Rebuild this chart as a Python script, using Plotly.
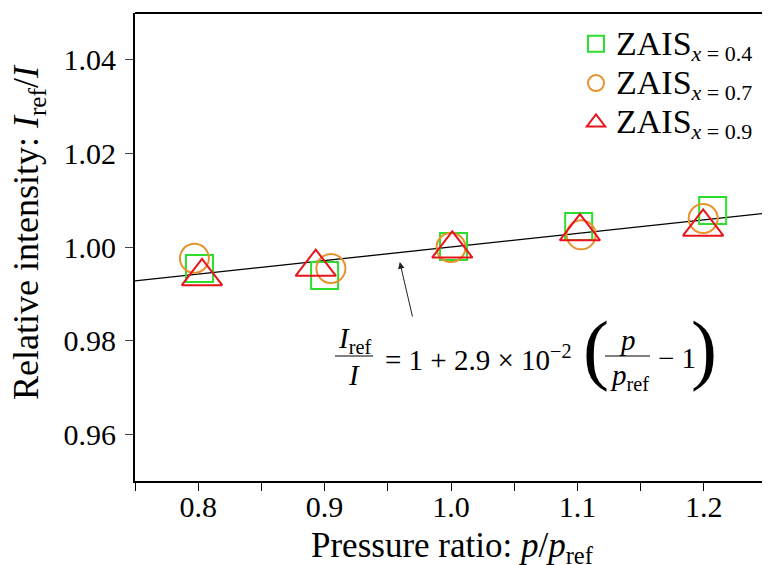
import plotly.graph_objects as go

# ---- data ----
pressure_ratio_04 = [0.801, 0.900, 1.002, 1.101, 1.207]
intensity_04 = [0.9954, 0.9939, 1.0001, 1.0044, 1.0078]
pressure_ratio_07 = [0.797, 0.905, 1.000, 1.103, 1.1995]
intensity_07 = [0.9976, 0.9954, 0.9999, 1.0026, 1.0061]
pressure_ratio_09 = [0.803, 0.893, 1.001, 1.102, 1.1995]
intensity_09 = [0.9937, 0.9957, 0.9996, 1.0033, 1.0043]
fit_slope = 2.9e-2
fit_x = [0.75, 1.25]
fit_y = [1 + fit_slope * (v - 1) for v in fit_x]
x_ticks = [0.8, 0.9, 1.0, 1.1, 1.2]
y_ticks = [0.96, 0.98, 1.00, 1.02, 1.04]

FONT = "Liberation Serif"
OFF = 8  # default page body margin of the html page
W, H = 770 - OFF, 565 - OFF
L, R, T, B = 135 - OFF, 3, 13 - OFF, 565 - 481
PW, PH = W - L - R, H - T - B


def px(xp):
    # xp: x position in the 770x565 screen
    return (xp - OFF - L) / PW


def py(yp):
    return (H - B - (yp - OFF)) / PH


def sub(s):
    return "<sub><span style='font-size:22px'>" + s + "</span></sub>"


fig = go.Figure()
fig.add_trace(go.Scatter(x=fit_x, y=fit_y, mode="lines",
                         line=dict(color="black", width=1.3), showlegend=False,
                         hoverinfo="skip"))
big = "<span style='font-size:34px'>ZAIS</span>"
fig.add_trace(go.Scatter(x=pressure_ratio_04, y=intensity_04, mode="markers",
                         name=big + sub("<i>x</i> = 0.4"),
                         marker=dict(symbol="square-open", size=27, color="#2ede2e",
                                     line=dict(width=2))))
fig.add_trace(go.Scatter(x=pressure_ratio_07, y=intensity_07, mode="markers",
                         name=big + sub("<i>x</i> = 0.7"),
                         marker=dict(symbol="circle-open", size=29, color="#e8922c",
                                     line=dict(width=2))))
fig.add_trace(go.Scatter(x=pressure_ratio_09, y=intensity_09, mode="markers",
                         name=big + sub("<i>x</i> = 0.9"),
                         marker=dict(symbol="triangle-up-open", size=35, color="#e8141c",
                                     line=dict(width=2))))

annotations = []


def txt(s, xp, yp, xanchor="center", size=29, angle=0):
    annotations.append(dict(text=s, x=px(xp), y=py(yp), xref="paper", yref="paper",
                            xanchor=xanchor, yanchor="middle", showarrow=False,
                            textangle=angle,
                            font=dict(family=FONT, size=size, color="black")))


# equation
txt("<i>I</i><sub>ref</sub>", 354, 340)
txt("<i>I</i>", 354, 375)
txt("= 1 + 2.9 × 10<sup>−2</sup>", 383, 358, xanchor="left")
txt("(", 596, 348, size=78)
txt("<i>p</i>", 627, 340)
txt("<i>p</i><sub>ref</sub>", 629, 377)
txt("− 1", 656, 358, xanchor="left")
txt(")", 704, 348, size=78)

# axis titles
txt("Relative intensity: <i>I</i><sub>ref</sub>/<i>I</i>", 28, 232, size=36, angle=-90)
txt("Pressure ratio: <i>p</i>/<i>p</i><sub>ref</sub>", 452, 547, size=35)

# arrow
annotations.append(dict(x=0.9595, y=0.99678, xref="x", yref="y", ax=13, ay=56,
                        showarrow=True, arrowhead=2, arrowsize=1.3, arrowwidth=1,
                        arrowcolor="#222", text=""))

shapes = [
    dict(type="line", xref="paper", yref="paper", x0=0, x1=1, y0=1, y1=1,
         line=dict(color="black", width=2)),
    dict(type="line", xref="paper", yref="paper", x0=px(335), x1=px(373),
         y0=py(356), y1=py(356), line=dict(color="black", width=1)),
    dict(type="line", xref="paper", yref="paper", x0=px(605), x1=px(650),
         y0=py(356), y1=py(356), line=dict(color="black", width=1)),
]

fig.update_layout(
    width=W, height=H,
    margin=dict(l=L, r=R, t=T, b=B),
    plot_bgcolor="white", paper_bgcolor="white",
    font=dict(family=FONT, color="black"),
    annotations=annotations, shapes=shapes,
    legend=dict(x=px(576), y=py(19), xanchor="left", yanchor="top",
                font=dict(family=FONT, size=28, color="black"),
                bgcolor="rgba(0,0,0,0)", tracegroupgap=0, itemwidth=30),
    xaxis=dict(range=[0.75, 1.25], tickvals=x_ticks, ticktext=[f"{v:.1f}" for v in x_ticks],
               ticks="outside", ticklen=8, tickwidth=1.3, tickcolor="black",
               showline=True, linewidth=1.6, linecolor="black",
               minor=dict(dtick=0.05, tick0=0.75, ticks="outside", ticklen=8, tickwidth=1.3,
                          tickcolor="black"),
               showgrid=False, zeroline=False, automargin=False,
               ticklabelstandoff=-10,
               tickfont=dict(family=FONT, size=30, color="black")),
    yaxis=dict(range=[0.95, 1.05], tickvals=y_ticks, ticktext=[f"{v:.2f}" for v in y_ticks],
               ticks="outside", ticklen=8, tickwidth=1.2, tickcolor="#444",
               showline=True, linewidth=2, linecolor="black",
               showgrid=False, zeroline=False, automargin=False,
               ticklabelstandoff=3,
               tickfont=dict(family=FONT, size=30, color="black")),
)

fig.write_html("out.html")
